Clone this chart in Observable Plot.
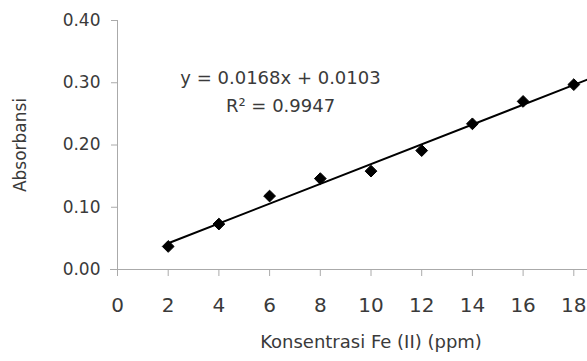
<!DOCTYPE html>
<html>
<head>
<meta charset="utf-8">
<script src="https://cdn.jsdelivr.net/npm/d3@7"></script>
<script src="https://cdn.jsdelivr.net/npm/@observablehq/plot@0.6"></script>
<style>
  html, body { margin: 0; padding: 0; background: #fff; overflow: hidden; }
  #chart svg { overflow: hidden; }
</style>
</head>
<body>
<div id="chart"></div>
<script>
// Data
const concentration = [2, 4, 6, 8, 10, 12, 14, 16, 18];
const absorbance = [0.037, 0.073, 0.118, 0.146, 0.158, 0.191, 0.234, 0.270, 0.297];
const xTicks = [0, 2, 4, 6, 8, 10, 12, 14, 16, 18];
const yTicks = [0, 0.1, 0.2, 0.3, 0.4];
const equationText = "y = 0.0168x + 0.0103";
const r2Text = "R\u00B2 = 0.9947";
const xLabel = "Konsentrasi Fe (II) (ppm)";
const yLabel = "Absorbansi";

const points = concentration.map((c, i) => ({c, a: absorbance[i]}));

// least-squares trendline from the data
const mx = d3.mean(concentration), my = d3.mean(absorbance);
const slope = d3.sum(concentration, (c, i) => (c - mx) * (absorbance[i] - my)) /
              d3.sum(concentration, c => (c - mx) ** 2);
const intercept = my - slope * mx;

const W = 587, H = 361, ML = 117, MR = -37;
const xDomain = [0, 20];
const xEnd = xDomain[1] * (W - ML) / (W - MR - ML); // data x at right edge of svg
const trend = [concentration[0], xEnd].map(c => ({c, a: intercept + slope * c}));

const axisColor = "#aaa";
const textColor = "#3a3a3a";

const chart = Plot.plot({
  width: W,
  height: H,
  marginLeft: ML,
  marginRight: MR,
  marginTop: 20,
  marginBottom: 92,
  style: {fontFamily: "DejaVu Sans", fontSize: "17px", color: textColor, background: "#fff"},
  x: {domain: xDomain},
  y: {domain: [0, 0.4]},
  marks: [
    Plot.ruleX([0], {stroke: axisColor}),
    Plot.ruleY([0], {stroke: axisColor, insetLeft: -7}),
    Plot.axisY({ticks: yTicks, tickFormat: d3.format(".2f"), tickSize: 6, tickPadding: 11,
      stroke: axisColor, label: yLabel, labelAnchor: "center", labelOffset: 104, labelArrow: "none"}),
    Plot.axisX({ticks: xTicks, tickFormat: d3.format("d"), tickSize: 7, tickPadding: 21,
      stroke: axisColor, fontSize: 20, label: null}),
    Plot.axisX({ticks: [], tickSize: 0, label: xLabel, labelAnchor: "center", labelOffset: 78,
      labelArrow: "none", fontSize: 18}),
    Plot.line(trend, {x: "c", y: "a", stroke: "black", strokeWidth: 2}),
    Plot.dot(points, {x: "c", y: "a", symbol: "diamond2", r: 5.3, fill: "black", stroke: "black", strokeWidth: 1}),
    Plot.text([equationText], {x: 6.43, y: 0.308, text: d => d, fontSize: 18, fill: textColor}),
    Plot.text([r2Text], {x: 6.43, y: 0.263, text: d => d, fontSize: 18, fill: textColor})
  ]
});
document.getElementById("chart").appendChild(chart);
</script>
</body>
</html>
